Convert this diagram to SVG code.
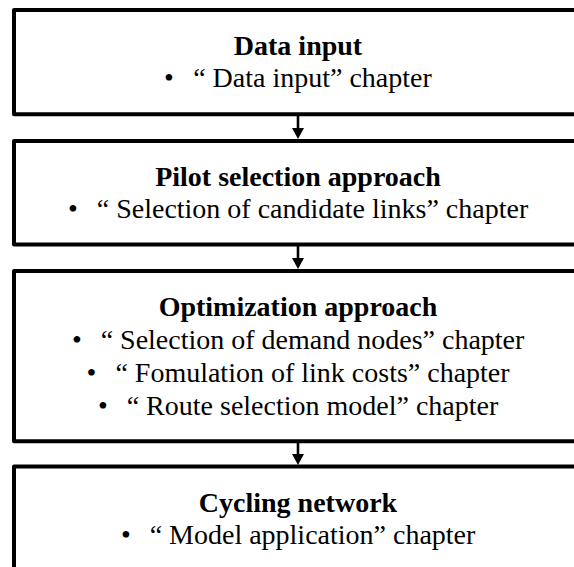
<svg xmlns="http://www.w3.org/2000/svg" width="574" height="567" viewBox="0 0 574 567">
<style>
.box{fill:#fff;stroke:#000;stroke-width:4;stroke-linejoin:round}
.t{font-family:"Liberation Serif","Times New Roman",serif;font-size:28px;fill:#000}
.b{font-weight:bold;text-anchor:middle}
.m{text-anchor:middle}
.conn{stroke:#000;stroke-width:2.6;fill:none}
</style>
<defs>
<marker id="ah" markerUnits="userSpaceOnUse" markerWidth="12" markerHeight="12" refX="0" refY="6" orient="auto">
<path d="M0,0 L11,6 L0,12 z" fill="#000"/>
</marker>
</defs>
<rect width="574" height="567" fill="#fff"/>
<g id="connectors">
<line class="conn" x1="298" y1="116" x2="298" y2="128" marker-end="url(#ah)"/>
<line class="conn" x1="298" y1="246" x2="298" y2="258" marker-end="url(#ah)"/>
<line class="conn" x1="298" y1="443" x2="298" y2="454" marker-end="url(#ah)"/>
</g>
<g id="node-data-input">
<rect class="box" x="14" y="10" width="568" height="104.3"/>
<text class="t b" x="298" y="55">Data input</text>
<text class="t m" x="169" y="87">•</text>
<text class="t m" x="312.5" y="87">“ Data input” chapter</text>
</g>
<g id="node-pilot-selection">
<rect class="box" x="14" y="141" width="568" height="103.5"/>
<text class="t b" x="298" y="186">Pilot selection approach</text>
<text class="t m" x="73" y="218">•</text>
<text class="t m" x="312.5" y="218">“ Selection of candidate links” chapter</text>
</g>
<g id="node-optimization">
<rect class="box" x="14" y="271" width="568" height="170.3"/>
<text class="t b" x="298" y="316">Optimization approach</text>
<text class="t m" x="77" y="349">•</text>
<text class="t m" x="312.5" y="349">“ Selection of demand nodes” chapter</text>
<text class="t m" x="91.5" y="382">•</text>
<text class="t m" x="312.5" y="382">“ Fomulation of link costs” chapter</text>
<text class="t m" x="103" y="415">•</text>
<text class="t m" x="312.5" y="415">“ Route selection model” chapter</text>
</g>
<g id="node-cycling-network">
<rect class="box" x="14" y="466.5" width="568" height="120"/>
<text class="t b" x="298" y="511.5">Cycling network</text>
<text class="t m" x="126" y="543.5">•</text>
<text class="t m" x="312.5" y="543.5">“ Model application” chapter</text>
</g>
</svg>
